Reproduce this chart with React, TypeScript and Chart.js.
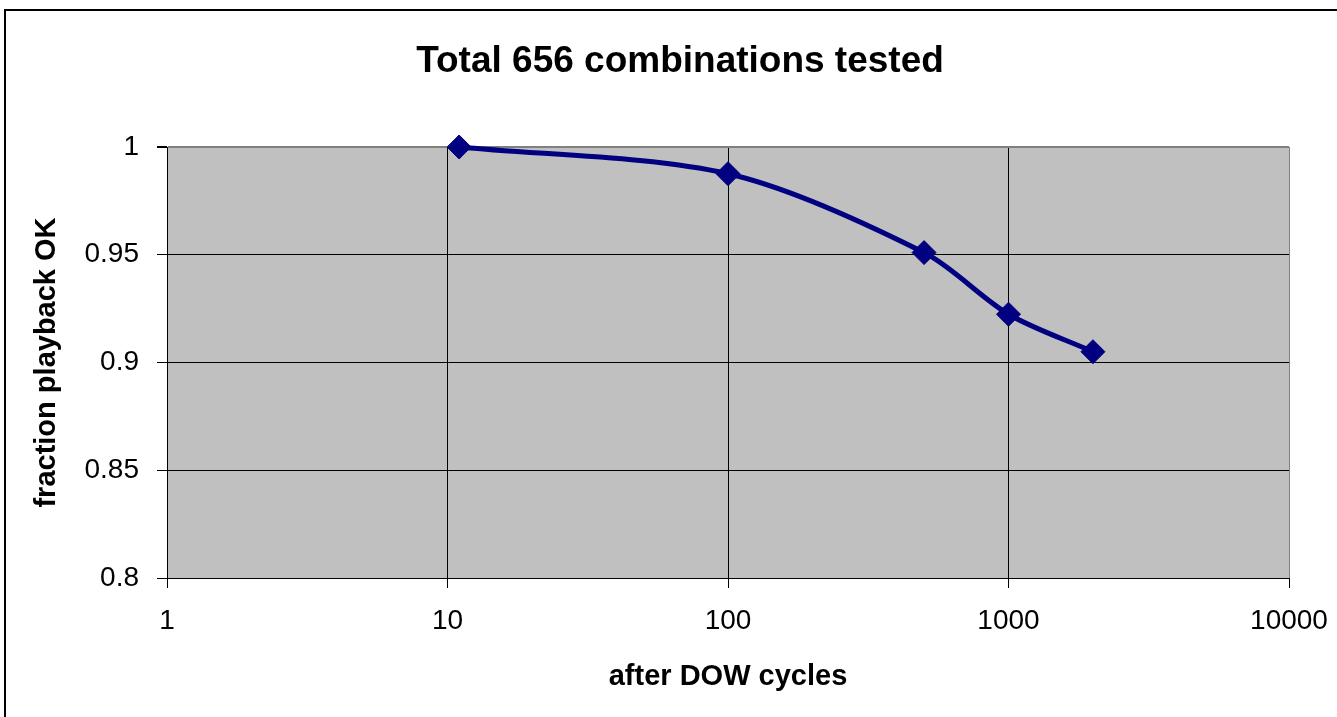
import React, { useEffect, useRef } from 'react';
import { Chart, registerables } from 'chart.js';

Chart.register(...registerables);

const cycles = [11, 100, 500, 1000, 2000];
const fractionOk = [1.0, 0.9876, 0.951, 0.9224, 0.905];
const xTickValues = [1, 10, 100, 1000, 10000];
const yTickValues = [0.8, 0.85, 0.9, 0.95, 1];
const titleText = 'Total 656 combinations tested';
const xTitleText = 'after DOW cycles';
const yTitleText = 'fraction playback OK';

const FONT = '"Liberation Sans", Arial, Helvetica, sans-serif';

export default function App() {
  const ref = useRef<HTMLCanvasElement | null>(null);

  useEffect(() => {
    const framePlugin = {
      id: 'framePlugin',
      beforeDraw(chart: any) {
        const { ctx, chartArea: a, width, height } = chart;
        ctx.save();
        ctx.fillStyle = '#ffffff';
        ctx.fillRect(0, 0, width, height);
        ctx.fillStyle = '#000000';
        ctx.fillRect(4, 9, 2, height);
        ctx.fillRect(4, 9, width, 2);
        ctx.fillStyle = '#c0c0c0';
        ctx.fillRect(a.left, a.top, a.right - a.left, a.bottom - a.top);
        ctx.restore();
      },
      afterDraw(chart: any) {
        const { ctx } = chart;
        ctx.save();
        ctx.fillStyle = '#000000';
        ctx.font = 'bold 37px ' + FONT;
        ctx.textAlign = 'center';
        ctx.textBaseline = 'middle';
        ctx.fillText(titleText, 680, 62);
        ctx.restore();
      },
    };

    const chart = new Chart(ref.current as HTMLCanvasElement, {
      type: 'line',
      data: {
        datasets: [
          {
            data: cycles.map((x, i) => ({ x, y: fractionOk[i] })),
            borderColor: '#000080',
            backgroundColor: '#000080',
            borderWidth: 5,
            pointStyle: 'rectRot',
            pointRadius: 12,
            pointBorderWidth: 1,
            pointBackgroundColor: '#000080',
            pointBorderColor: '#000080',
            tension: 0.3,
            clip: false,
          } as any,
        ],
      },
      options: {
        animation: false,
        responsive: false,
        layout: { padding: { left: 0, top: 147, right: 48, bottom: 0 } },
        plugins: {
          legend: { display: false },
          tooltip: { enabled: false },
          title: { display: false },
        },
        scales: {
          x: {
            type: 'logarithmic',
            min: 1,
            max: 10000,
            afterBuildTicks: (s: any) => {
              s.ticks = xTickValues.map((v) => ({ value: v }));
            },
            afterFit: (s: any) => {
              s.height = 139;
              s.paddingLeft = 0;
              s.paddingRight = 0;
            },
            ticks: {
              callback: (v: any) => String(v),
              color: '#000000',
              font: { family: FONT, size: 28 },
              padding: 16,
              maxRotation: 0,
              autoSkip: false,
            },
            grid: {
              color: (c: any) => (c.tick && c.tick.value === 10000 ? '#808080' : '#000000'),
              tickColor: '#000000',
              tickLength: 10,
              lineWidth: 1,
            },
            border: { color: '#000000', width: 1 },
            title: {
              display: true,
              text: xTitleText,
              color: '#000000',
              font: { family: FONT, size: 29, weight: 'bold' },
              padding: { top: 0, bottom: 23 },
            },
          } as any,
          y: {
            type: 'linear',
            min: 0.8,
            max: 1,
            afterBuildTicks: (s: any) => {
              s.ticks = yTickValues.map((v) => ({ value: v }));
            },
            afterFit: (s: any) => {
              s.width = 167;
            },
            ticks: {
              callback: (v: any) => String(v),
              color: '#000000',
              font: { family: FONT, size: 28 },
              padding: 18,
            },
            grid: {
              color: (c: any) => (c.tick && c.tick.value === 1 ? '#808080' : '#000000'),
              lineWidth: (c: any) => (c.tick && c.tick.value === 1 ? 2 : 1),
              tickColor: '#000000',
              tickLength: 10,
            },
            border: { color: '#000000', width: 1 },
            title: {
              display: true,
              text: yTitleText,
              color: '#000000',
              font: { family: FONT, size: 29, weight: 'bold' },
              padding: { top: 30, bottom: 0 },
            },
          } as any,
        },
      },
      plugins: [framePlugin],
    });

    return () => chart.destroy();
  }, []);

  return (
    <div style={{ position: 'fixed', left: 0, top: 0, width: 1337, height: 717, background: '#fff' }}>
      <canvas ref={ref} width={1337} height={717} style={{ display: 'block', width: 1337, height: 717 }} />
    </div>
  );
}
